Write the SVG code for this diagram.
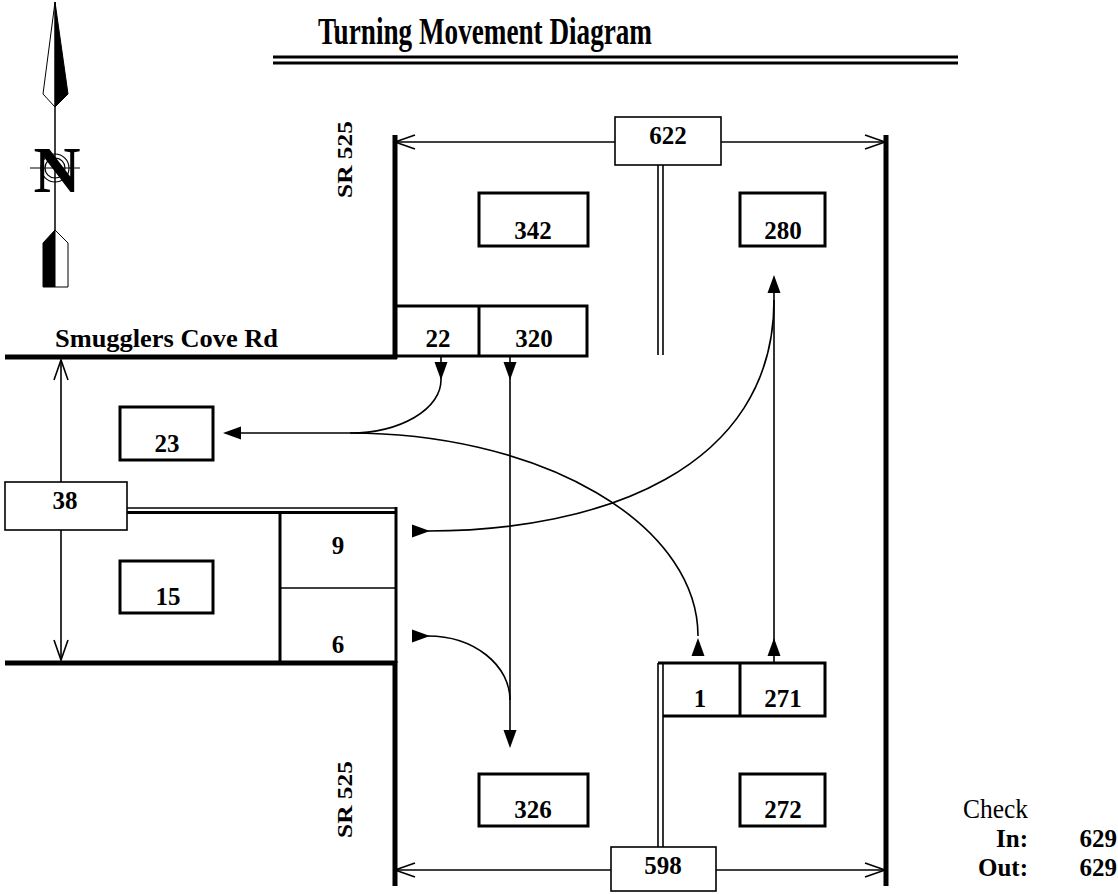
<svg xmlns="http://www.w3.org/2000/svg" xmlns:xlink="http://www.w3.org/1999/xlink" width="1118" height="894" viewBox="0 0 1118 894">
<style>
  .t { font-family: "Liberation Serif", "Times New Roman", serif; fill: #000; }
  .b { font-weight: bold; }
  .num { font-family: "Liberation Serif", "Times New Roman", serif; font-weight: bold; font-size: 25px; text-anchor: middle; fill: #000; }
  .box { fill: #fff; stroke: #000; stroke-width: 3; }
  .tbox { fill: #fff; stroke: #000; stroke-width: 1.6; }
  .road { stroke: #000; stroke-width: 5; fill: none; }
  .thin { stroke: #000; stroke-width: 1.6; fill: none; }
  .med { stroke: #000; stroke-width: 3; fill: none; }
  .open { stroke: #000; stroke-width: 1.6; fill: none; }
</style>
<defs>
  <path id="ah" d="M0,0 L-18,-6.5 L-18,6.5 Z" fill="#000"/>
  <path id="oh" d="M-20,-7 L0,0 L-20,7" fill="none" stroke="#000" stroke-width="1.6"/>
</defs>
<rect width="1118" height="894" fill="#fff"/>

<g id="north-arrow">
  <polygon points="55,2 43,94 55,107" fill="#fff" stroke="#000" stroke-width="1"/>
  <polygon points="55,2 68,94 55,107" fill="#000" stroke="#000" stroke-width="1"/>
  <line x1="55" y1="107" x2="55" y2="230" stroke="#000" stroke-width="1.5"/>
  <line x1="30" y1="168" x2="80" y2="168" stroke="#000" stroke-width="1.2"/>
  <circle cx="55" cy="168" r="14" fill="none" stroke="#000" stroke-width="1.2"/>
  <circle cx="55" cy="168" r="10" fill="none" stroke="#000" stroke-width="1.2"/>
  <text class="t b" x="57" y="192" font-size="66" text-anchor="middle" textLength="47" lengthAdjust="spacingAndGlyphs">N</text>
  <polygon points="55,230 43,243 43,287 55,287" fill="#000" stroke="#000" stroke-width="1"/>
  <polygon points="55,230 68,243 68,287 55,287" fill="#fff" stroke="#000" stroke-width="1"/>
</g>

<g id="title">
  <text class="t b" x="318" y="44" font-size="37" textLength="334" lengthAdjust="spacingAndGlyphs">Turning Movement Diagram</text>
  <line x1="273" y1="57" x2="958" y2="57" stroke="#000" stroke-width="3"/>
  <line x1="273" y1="63" x2="958" y2="63" stroke="#000" stroke-width="3"/>
</g>

<g id="roads">
  <line class="road" x1="395" y1="135" x2="395" y2="359"/>
  <line class="road" x1="5" y1="357" x2="397" y2="357"/>
  <line class="road" x1="5" y1="663" x2="397" y2="663"/>
  <line class="road" x1="395" y1="661" x2="395" y2="886"/>
  <line class="road" x1="886" y1="135" x2="886" y2="886"/>
  <line class="thin" x1="658" y1="165" x2="658" y2="355"/>
  <line class="thin" x1="663" y1="165" x2="663" y2="355"/>
  <text class="t b" x="55" y="347" font-size="26" textLength="223" lengthAdjust="spacingAndGlyphs">Smugglers Cove Rd</text>
  <text class="t b" transform="translate(352,198) rotate(-90)" font-size="22" textLength="77" lengthAdjust="spacingAndGlyphs">SR 525</text>
  <text class="t b" transform="translate(352,838) rotate(-90)" font-size="22" textLength="77" lengthAdjust="spacingAndGlyphs">SR 525</text>
</g>

<g id="connectors">
  <line class="open" x1="395" y1="142" x2="615" y2="142"/>
  <line class="open" x1="721" y1="142" x2="885" y2="142"/>
  <use href="#oh" transform="translate(395,142) rotate(180)"/>
  <use href="#oh" transform="translate(885,142)"/>
  <line class="open" x1="395" y1="870" x2="611" y2="870"/>
  <line class="open" x1="716" y1="870" x2="885" y2="870"/>
  <use href="#oh" transform="translate(395,870) rotate(180)"/>
  <use href="#oh" transform="translate(885,870)"/>
  <line class="open" x1="61" y1="360" x2="61" y2="482"/>
  <line class="open" x1="61" y1="530" x2="61" y2="660"/>
  <use href="#oh" transform="translate(61,360) rotate(-90)"/>
  <use href="#oh" transform="translate(61,660) rotate(90)"/>

  <path class="open" d="M441,356 V380 A91,53 0 0 1 350,433 H240"/>
  <path class="open" d="M350,433 A348,203 0 0 1 698,636"/>
  <path class="open" d="M510,356 V740"/>
  <path class="open" d="M428,636 A82,64 0 0 1 510,700"/>
  <path class="open" d="M428,531 C600,531 774,470 774,300"/>
  <path class="open" d="M774,280 V663"/>
  <use href="#ah" transform="translate(441,380) rotate(90)"/>
  <use href="#ah" transform="translate(510,380) rotate(90)"/>
  <use href="#ah" transform="translate(510,748) rotate(90)"/>
  <use href="#ah" transform="translate(223,433) rotate(180)"/>
  <use href="#ah" transform="translate(430,531)"/>
  <use href="#ah" transform="translate(430,636)"/>
  <use href="#ah" transform="translate(698,638) rotate(-90)"/>
  <use href="#ah" transform="translate(774,638) rotate(-90)"/>
  <use href="#ah" transform="translate(774,275) rotate(-90)"/>
</g>

<g id="node-622">
  <rect class="tbox" x="615" y="117" width="106" height="48"/>
  <text class="num" x="668" y="144">622</text>
</g>
<g id="node-342">
  <rect class="box" x="479" y="193" width="109" height="53"/>
  <text class="num" x="533" y="239">342</text>
</g>
<g id="node-280">
  <rect class="box" x="740" y="193" width="85" height="53"/>
  <text class="num" x="783" y="239">280</text>
</g>
<g id="node-22-320">
  <path class="med" d="M395,306 H587 V356 H397"/>
  <line class="med" x1="479" y1="306" x2="479" y2="356"/>
  <text class="num" x="438" y="347">22</text>
  <text class="num" x="534" y="347">320</text>
</g>
<g id="node-23">
  <rect class="box" x="120" y="407" width="93" height="53"/>
  <text class="num" x="167" y="452">23</text>
</g>
<g id="node-38">
  <line class="thin" x1="127" y1="508" x2="396" y2="508"/>
  <line class="med" x1="127" y1="512.5" x2="396" y2="512.5"/>
  <line class="med" x1="396" y1="507" x2="396" y2="663"/>
  <line class="med" x1="280" y1="512" x2="280" y2="663"/>
  <line class="thin" x1="280" y1="588" x2="396" y2="588"/>
  <text class="num" x="338" y="554">9</text>
  <text class="num" x="338" y="653">6</text>
  <rect class="tbox" x="5" y="482" width="122" height="48"/>
  <text class="num" x="65" y="509">38</text>
</g>
<g id="node-15">
  <rect class="box" x="120" y="561" width="93" height="52"/>
  <text class="num" x="168" y="605">15</text>
</g>
<g id="node-1-271">
  <line class="thin" x1="658" y1="663" x2="658" y2="847"/>
  <line class="thin" x1="663" y1="663" x2="663" y2="847"/>
  <path class="med" d="M658,663 H825 V716 H663"/>
  <line class="med" x1="740" y1="663" x2="740" y2="716"/>
  <text class="num" x="700" y="707">1</text>
  <text class="num" x="783" y="707">271</text>
</g>
<g id="node-326">
  <rect class="box" x="479" y="774" width="109" height="52"/>
  <text class="num" x="533" y="818">326</text>
</g>
<g id="node-272">
  <rect class="box" x="740" y="774" width="85" height="52"/>
  <text class="num" x="783" y="818">272</text>
</g>
<g id="node-598">
  <rect class="tbox" x="611" y="847" width="105" height="44"/>
  <text class="num" x="663" y="874">598</text>
</g>
<g id="check">
  <text class="t" x="963" y="818" font-size="27" textLength="65" lengthAdjust="spacingAndGlyphs">Check</text>
  <text class="t b" x="1028" y="847" font-size="25" text-anchor="end">In:</text>
  <text class="t b" x="1028" y="876" font-size="25" text-anchor="end">Out:</text>
  <text class="t b" x="1117" y="847" font-size="25" text-anchor="end">629</text>
  <text class="t b" x="1117" y="876" font-size="25" text-anchor="end">629</text>
</g>
</svg>
